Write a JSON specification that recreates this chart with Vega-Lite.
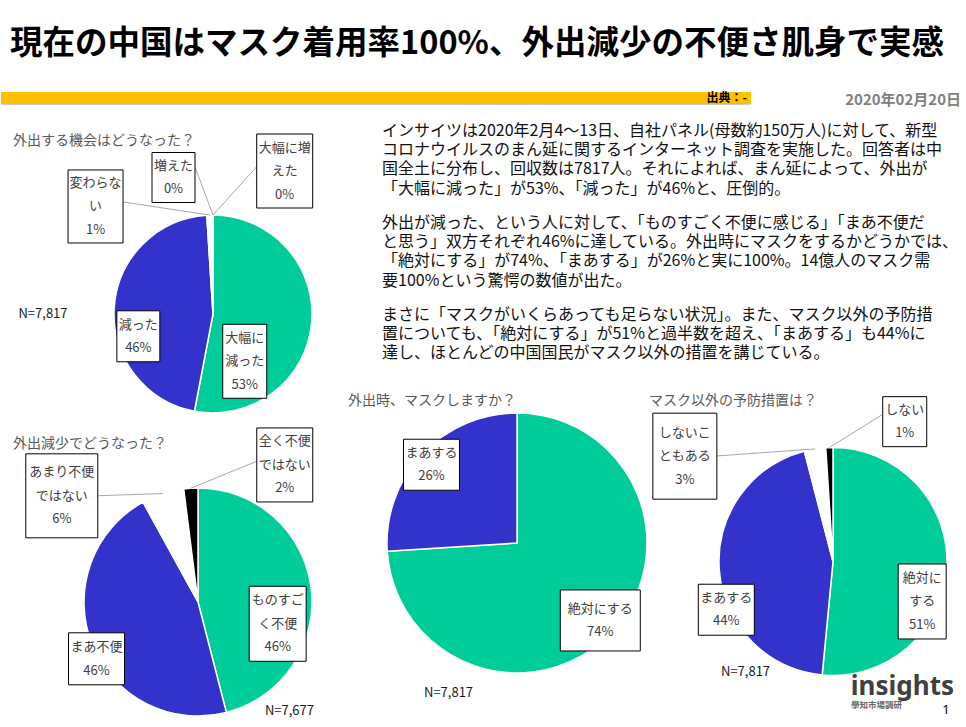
{
  "$schema": "https://vega.github.io/schema/vega-lite/v6.json",
  "padding": 0,
  "autosize": {"type": "pad"},
  "background": "white",
  "spacing": 0,
  "config": {
    "concat": {"spacing": 0},
    "view": {"stroke": null},
    "font": "Noto Sans CJK JP",
    "title": {"font": "Noto Sans CJK JP", "fontWeight": "normal", "fontSize": 13, "color": "#1a1a1a", "anchor": "start", "frame": "group"},
    "text": {"font": "Noto Sans CJK JP", "fontSize": 13, "lineHeight": 23.5, "lineBreak": "\n", "color": "#404040", "align": "center", "baseline": "middle"},
    "arc": {"stroke": "white", "strokeWidth": 1.5},
    "rule": {"color": "#a6a6a6", "strokeWidth": 1},
    "rect": {"fill": "white", "stroke": "black", "strokeWidth": 1}
  },
  "datasets": {
    "p1": [
      {"i": 1, "cat": "大幅に減った", "label": "大幅に\n減った", "pct": 53},
      {"i": 2, "cat": "減った", "label": "減った", "pct": 46},
      {"i": 3, "cat": "変わらない", "label": "変わらな\nい", "pct": 1},
      {"i": 4, "cat": "増えた", "label": "増えた", "pct": 0},
      {"i": 5, "cat": "大幅に増えた", "label": "大幅に増\nえた", "pct": 0}
    ],
    "p2": [
      {"i": 1, "cat": "ものすごく不便", "label": "ものすご\nく不便", "pct": 46},
      {"i": 2, "cat": "まあ不便", "label": "まあ不便", "pct": 46},
      {"i": 3, "cat": "あまり不便ではない", "label": "あまり不便\nではない", "pct": 6},
      {"i": 4, "cat": "全く不便ではない", "label": "全く不便\nではない", "pct": 2}
    ],
    "p3": [
      {"i": 1, "cat": "絶対にする", "label": "絶対にする", "pct": 74},
      {"i": 2, "cat": "まあする", "label": "まあする", "pct": 26}
    ],
    "p4": [
      {"i": 1, "cat": "絶対にする", "label": "絶対に\nする", "pct": 51},
      {"i": 2, "cat": "まあする", "label": "まあする", "pct": 44},
      {"i": 3, "cat": "しないこともある", "label": "しないこ\nともある", "pct": 3},
      {"i": 4, "cat": "しない", "label": "しない", "pct": 1}
    ]
  },
  "vconcat": [
    {
      "width": 952, "height": 88,
      "data": {"values": [{"t": "現在の中国はマスク着用率100%、外出減少の不便さ肌身で実感"}]},
      "mark": {"type": "text", "fontSize": 32.5, "fontWeight": "bold", "color": "#000000"},
      "encoding": {"text": {"field": "t", "type": "nominal"}}
    },
    {"width": 1, "height": 4, "data": {"values": []}, "mark": "point"},
    {
      "hconcat": [
        {
          "width": 750, "height": 12,
          "view": {"fill": "#FFC000", "stroke": null},
          "data": {"values": [{"t": "出典：-"}]},
          "layer": [
            {"mark": {"type": "rule", "color": "#b8b8b8", "strokeWidth": 2, "opacity": 0.7},
             "encoding": {"y": {"value": "height"}}},
            {"mark": {"type": "text", "fontSize": 12, "fontWeight": "bold", "color": "#000000", "align": "right", "dx": -4},
             "encoding": {"x": {"value": "width"}, "text": {"field": "t", "type": "nominal"}}}
          ]
        },
        {
          "width": 210, "height": 16,
          "data": {"values": [{"t": "2020年02月20日"}]},
          "mark": {"type": "text", "fontSize": 15, "fontWeight": "bold", "color": "#7f7f7f", "align": "right"},
          "encoding": {"x": {"value": "width"}, "text": {"field": "t", "type": "nominal"}}
        }
      ],
      "spacing": 0, "bounds": "flush"
    },
    {
      "hconcat": [
        {"width": 12, "height": 1, "data": {"values": []}, "mark": "point"},
        {
          "vconcat": [
            {"width": 1, "height": 25, "data": {"values": []}, "mark": "point"},
            {
              "hconcat": [
                {
                  "width": 60, "height": 198,
                  "title": {"text": "外出する機会はどうなった？", "offset": 67, "fontSize": 14, "color": "#595959"},
                  "data": {"values": [{"t": "N=7,817"}]},
                  "mark": {"type": "text", "color": "#1a1a1a"},
                  "encoding": {"text": {"field": "t", "type": "nominal"}}
                },
                {"width": 30, "height": 1, "data": {"values": []}, "mark": "point"},
                {
                  "width": 220, "height": 198,
                  "data": {"name": "p1"},
                  "transform": [
                    {"stack": "pct", "groupby": [], "offset": "normalize", "sort": [{"field": "i", "order": "ascending"}], "as": ["s0", "s1"]},
                    {"calculate": "(datum.s0 + datum.s1) / 2", "as": "mid"},
                    {"calculate": "datum.label + '\\n' + datum.pct + '%'", "as": "txt"}
                  ],
                  "layer": [
                    {"mark": {"type": "arc", "outerRadius": 99},
                     "encoding": {
                       "theta": {"field": "s0", "type": "quantitative", "scale": {"domain": [0, 1]}},
                       "theta2": {"field": "s1"},
                       "color": {"field": "cat", "type": "nominal", "legend": null,
                         "scale": {"domain": ["大幅に減った","減った","変わらない","増えた","大幅に増えた","ものすごく不便","まあ不便","あまり不便ではない","全く不便ではない","絶対にする","まあする","しないこともある","しない"],
                                   "range": ["#00CC99","#3333CC","#FFFFFF","#000000","#000000","#00CC99","#3333CC","#FFFFFF","#000000","#00CC99","#3333CC","#FFFFFF","#000000"]}}}},
                    {"transform": [{"filter": "datum.cat === '大幅に減った'"},
                       {"calculate": "35*sin(2*PI*datum.mid) - 3.1", "as": "bx"},
                       {"calculate": "-35*cos(2*PI*datum.mid) + 44", "as": "by"},
                       {"calculate": "datum.by - 23.5", "as": "ty"}],
                     "layer": [
                       {"mark": {"type": "rect", "width": 44, "height": 74},
                        "encoding": {"x": {"field": "bx", "type": "quantitative", "scale": {"domain": [-110, 110], "nice": false, "zero": false}, "axis": null},
                                     "y": {"field": "by", "type": "quantitative", "scale": {"domain": [-99, 99], "reverse": true, "nice": false, "zero": false}, "axis": null}}},
                       {"mark": {"type": "text"},
                        "encoding": {"x": {"field": "bx", "type": "quantitative"}, "y": {"field": "ty", "type": "quantitative"}, "text": {"field": "txt", "type": "nominal"}}}
                     ]},
                    {"transform": [{"filter": "datum.cat === '減った'"},
                       {"calculate": "75*sin(2*PI*datum.mid) + 0.2", "as": "bx"},
                       {"calculate": "-75*cos(2*PI*datum.mid) + 27", "as": "by"},
                       {"calculate": "datum.by - 11.75", "as": "ty"}],
                     "layer": [
                       {"mark": {"type": "rect", "width": 43, "height": 51},
                        "encoding": {"x": {"field": "bx", "type": "quantitative"}, "y": {"field": "by", "type": "quantitative"}}},
                       {"mark": {"type": "text"},
                        "encoding": {"x": {"field": "bx", "type": "quantitative"}, "y": {"field": "ty", "type": "quantitative"}, "text": {"field": "txt", "type": "nominal"}}}
                     ]},
                    {"transform": [{"filter": "datum.cat === '変わらない'"},
                       {"calculate": "110*sin(2*PI*datum.mid) - 114", "as": "bx"},
                       {"calculate": "-110*cos(2*PI*datum.mid) + 2.4", "as": "by"},
                       {"calculate": "datum.by - 23.5", "as": "ty"},
                       {"calculate": "99*sin(2*PI*datum.mid)", "as": "px"},
                       {"calculate": "-99*cos(2*PI*datum.mid)", "as": "py"},
                       {"calculate": "datum.bx + 27.5", "as": "lx"},
                       {"calculate": "datum.by - 4.5", "as": "ly"}],
                     "layer": [
                       {"mark": {"type": "rule"},
                        "encoding": {"x": {"field": "px", "type": "quantitative"}, "y": {"field": "py", "type": "quantitative"}, "x2": {"field": "lx"}, "y2": {"field": "ly"}}},
                       {"mark": {"type": "rect", "width": 55, "height": 73},
                        "encoding": {"x": {"field": "bx", "type": "quantitative"}, "y": {"field": "by", "type": "quantitative"}}},
                       {"mark": {"type": "text"},
                        "encoding": {"x": {"field": "bx", "type": "quantitative"}, "y": {"field": "ty", "type": "quantitative"}, "text": {"field": "txt", "type": "nominal"}}}
                     ]},
                    {"transform": [{"filter": "datum.cat === '増えた'"},
                       {"calculate": "110*sin(2*PI*datum.mid) - 39.5", "as": "bx"},
                       {"calculate": "-110*cos(2*PI*datum.mid) - 26.5", "as": "by"},
                       {"calculate": "datum.by - 11.75", "as": "ty"},
                       {"calculate": "99*sin(2*PI*datum.mid)", "as": "px"},
                       {"calculate": "-99*cos(2*PI*datum.mid)", "as": "py"},
                       {"calculate": "datum.bx + 21.5", "as": "lx"},
                       {"calculate": "datum.by - 10.5", "as": "ly"}],
                     "layer": [
                       {"mark": {"type": "rule"},
                        "encoding": {"x": {"field": "px", "type": "quantitative"}, "y": {"field": "py", "type": "quantitative"}, "x2": {"field": "lx"}, "y2": {"field": "ly"}}},
                       {"mark": {"type": "rect", "width": 43, "height": 50},
                        "encoding": {"x": {"field": "bx", "type": "quantitative"}, "y": {"field": "by", "type": "quantitative"}}},
                       {"mark": {"type": "text"},
                        "encoding": {"x": {"field": "bx", "type": "quantitative"}, "y": {"field": "ty", "type": "quantitative"}, "text": {"field": "txt", "type": "nominal"}}}
                     ]},
                    {"transform": [{"filter": "datum.cat === '大幅に増えた'"},
                       {"calculate": "110*sin(2*PI*datum.mid) + 71.7", "as": "bx"},
                       {"calculate": "-110*cos(2*PI*datum.mid) - 33", "as": "by"},
                       {"calculate": "datum.by - 23.5", "as": "ty"},
                       {"calculate": "99*sin(2*PI*datum.mid)", "as": "px"},
                       {"calculate": "-99*cos(2*PI*datum.mid)", "as": "py"},
                       {"calculate": "datum.bx - 28", "as": "lx"},
                       {"calculate": "datum.by - 4.3", "as": "ly"}],
                     "layer": [
                       {"mark": {"type": "rule"},
                        "encoding": {"x": {"field": "px", "type": "quantitative"}, "y": {"field": "py", "type": "quantitative"}, "x2": {"field": "lx"}, "y2": {"field": "ly"}}},
                       {"mark": {"type": "rect", "width": 56, "height": 74},
                        "encoding": {"x": {"field": "bx", "type": "quantitative"}, "y": {"field": "by", "type": "quantitative"}}},
                       {"mark": {"type": "text"},
                        "encoding": {"x": {"field": "bx", "type": "quantitative"}, "y": {"field": "ty", "type": "quantitative"}, "text": {"field": "txt", "type": "nominal"}}}
                     ]}
                  ]
                }
              ],
              "spacing": 0, "bounds": "flush"
            },
            {"width": 1, "height": 11, "data": {"values": []}, "mark": "point"},
            {
              "hconcat": [
                {"width": 75, "height": 1, "title": {"text": "外出減少でどうなった？", "offset": 37, "fontSize": 14, "color": "#595959"}, "data": {"values": []}, "mark": "point"},
                {
                  "width": 220, "height": 228,
                  "data": {"name": "p2"},
                  "title": {"text": "N=7,677", "orient": "bottom", "anchor": "end", "offset": -14, "dx": 6},
                  "transform": [
                    {"stack": "pct", "groupby": [], "offset": "normalize", "sort": [{"field": "i", "order": "ascending"}], "as": ["s0", "s1"]},
                    {"calculate": "(datum.s0 + datum.s1) / 2", "as": "mid"},
                    {"calculate": "datum.label + '\\n' + datum.pct + '%'", "as": "txt"}
                  ],
                  "layer": [
                    {"mark": {"type": "arc", "outerRadius": 114},
                     "encoding": {
                       "theta": {"field": "s0", "type": "quantitative", "scale": {"domain": [0, 1]}},
                       "theta2": {"field": "s1"},
                       "color": {"field": "cat", "type": "nominal", "legend": null,
                         "scale": {"domain": ["大幅に減った","減った","変わらない","増えた","大幅に増えた","ものすごく不便","まあ不便","あまり不便ではない","全く不便ではない","絶対にする","まあする","しないこともある","しない"],
                                   "range": ["#00CC99","#3333CC","#FFFFFF","#000000","#000000","#00CC99","#3333CC","#FFFFFF","#000000","#00CC99","#3333CC","#FFFFFF","#000000"]}}}},
                    {"transform": [{"filter": "datum.cat === 'ものすごく不便'"},
                       {"calculate": "80*sin(2*PI*datum.mid) + 0.3", "as": "bx"},
                       {"calculate": "-80*cos(2*PI*datum.mid) + 31.8", "as": "by"},
                       {"calculate": "datum.by - 23.5", "as": "ty"}],
                     "layer": [
                       {"mark": {"type": "rect", "width": 57, "height": 75},
                        "encoding": {"x": {"field": "bx", "type": "quantitative", "scale": {"domain": [-110, 110], "nice": false, "zero": false}, "axis": null},
                                     "y": {"field": "by", "type": "quantitative", "scale": {"domain": [-114, 114], "reverse": true, "nice": false, "zero": false}, "axis": null}}},
                       {"mark": {"type": "text"},
                        "encoding": {"x": {"field": "bx", "type": "quantitative"}, "y": {"field": "ty", "type": "quantitative"}, "text": {"field": "txt", "type": "nominal"}}}
                     ]},
                    {"transform": [{"filter": "datum.cat === 'まあ不便'"},
                       {"calculate": "100*sin(2*PI*datum.mid) - 8.5", "as": "bx"},
                       {"calculate": "-100*cos(2*PI*datum.mid) + 20", "as": "by"},
                       {"calculate": "datum.by - 11.75", "as": "ty"}],
                     "layer": [
                       {"mark": {"type": "rect", "width": 56, "height": 52},
                        "encoding": {"x": {"field": "bx", "type": "quantitative"}, "y": {"field": "by", "type": "quantitative"}}},
                       {"mark": {"type": "text"},
                        "encoding": {"x": {"field": "bx", "type": "quantitative"}, "y": {"field": "ty", "type": "quantitative"}, "text": {"field": "txt", "type": "nominal"}}}
                     ]},
                    {"transform": [{"filter": "datum.cat === 'あまり不便ではない'"},
                       {"calculate": "125*sin(2*PI*datum.mid) - 97.6", "as": "bx"},
                       {"calculate": "-125*cos(2*PI*datum.mid) + 12.7", "as": "by"},
                       {"calculate": "datum.by - 23.5", "as": "ty"},
                       {"calculate": "114*sin(2*PI*datum.mid)", "as": "px"},
                       {"calculate": "-114*cos(2*PI*datum.mid)", "as": "py"},
                       {"calculate": "datum.bx + 36", "as": "lx"},
                       {"calculate": "datum.by - 0.1", "as": "ly"}],
                     "layer": [
                       {"mark": {"type": "rule"},
                        "encoding": {"x": {"field": "px", "type": "quantitative"}, "y": {"field": "py", "type": "quantitative"}, "x2": {"field": "lx"}, "y2": {"field": "ly"}}},
                       {"mark": {"type": "rect", "width": 72, "height": 84},
                        "encoding": {"x": {"field": "bx", "type": "quantitative"}, "y": {"field": "by", "type": "quantitative"}}},
                       {"mark": {"type": "text"},
                        "encoding": {"x": {"field": "bx", "type": "quantitative"}, "y": {"field": "ty", "type": "quantitative"}, "text": {"field": "txt", "type": "nominal"}}}
                     ]},
                    {"transform": [{"filter": "datum.cat === '全く不便ではない'"},
                       {"calculate": "125*sin(2*PI*datum.mid) + 94.6", "as": "bx"},
                       {"calculate": "-125*cos(2*PI*datum.mid) - 12.3", "as": "by"},
                       {"calculate": "datum.by - 23.5", "as": "ty"},
                       {"calculate": "114*sin(2*PI*datum.mid)", "as": "px"},
                       {"calculate": "-114*cos(2*PI*datum.mid)", "as": "py"},
                       {"calculate": "datum.bx - 28", "as": "lx"},
                       {"calculate": "datum.by - 3.7", "as": "ly"}],
                     "layer": [
                       {"mark": {"type": "rule"},
                        "encoding": {"x": {"field": "px", "type": "quantitative"}, "y": {"field": "py", "type": "quantitative"}, "x2": {"field": "lx"}, "y2": {"field": "ly"}}},
                       {"mark": {"type": "rect", "width": 56, "height": 74},
                        "encoding": {"x": {"field": "bx", "type": "quantitative"}, "y": {"field": "by", "type": "quantitative"}}},
                       {"mark": {"type": "text"},
                        "encoding": {"x": {"field": "bx", "type": "quantitative"}, "y": {"field": "ty", "type": "quantitative"}, "text": {"field": "txt", "type": "nominal"}}}
                     ]}
                  ]
                }
              ],
              "spacing": 0, "bounds": "flush"
            }
          ],
          "spacing": 0
        },
        {
          "vconcat": [
            {
              "width": 118, "height": 30,
              "data": {"values": [{"t": "インサイツは2020年2月4～13日、自社パネル(母数約150万人)に対して、新型\nコロナウイルスのまん延に関するインターネット調査を実施した。回答者は中\n国全土に分布し、回収数は7817人。それによれば、まん延によって、外出が\n「大幅に減った」が53%、「減った」が46%と、圧倒的。"}]},
              "mark": {"type": "text", "fontSize": 16, "lineHeight": 19.2, "color": "#111111", "align": "left", "baseline": "top"},
              "encoding": {"text": {"field": "t", "type": "nominal"}}
            },
            {
              "width": 118, "height": 36,
              "data": {"values": [{"t": "外出が減った、という人に対して、「ものすごく不便に感じる」「まあ不便だ\nと思う」双方それぞれ46%に達している。外出時にマスクをするかどうかでは、\n「絶対にする」が74%、「まあする」が26%と実に100%。14億人のマスク需\n要100%という驚愕の数値が出た。"}]},
              "mark": {"type": "text", "fontSize": 16, "lineHeight": 19.2, "color": "#111111", "align": "left", "baseline": "top"},
              "encoding": {"text": {"field": "t", "type": "nominal"}}
            },
            {
              "width": 118, "height": 35,
              "data": {"values": [{"t": "まさに「マスクがいくらあっても足らない状況」。また、マスク以外の予防措\n置についても、「絶対にする」が51%と過半数を超え、「まあする」も44%に\n達し、ほとんどの中国国民がマスク以外の措置を講じている。"}]},
              "mark": {"type": "text", "fontSize": 16, "lineHeight": 19.2, "color": "#111111", "align": "left", "baseline": "top"},
              "encoding": {"text": {"field": "t", "type": "nominal"}}
            },
            {"width": 1, "height": 33, "data": {"values": []}, "mark": "point"},
            {
              "hconcat": [
                {"width": 62, "height": 1, "title": {"text": "外出時、マスクしますか？", "offset": 5, "dx": 25, "fontSize": 14, "color": "#595959"}, "data": {"values": []}, "mark": "point"},
                {
                  "width": 264, "height": 260,
                  "data": {"name": "p3"},
                  "title": {"text": "N=7,817", "orient": "bottom", "anchor": "start", "offset": 11, "dx": 39},
                  "transform": [
                    {"stack": "pct", "groupby": [], "offset": "normalize", "sort": [{"field": "i", "order": "ascending"}], "as": ["s0", "s1"]},
                    {"calculate": "(datum.s0 + datum.s1) / 2", "as": "mid"},
                    {"calculate": "datum.label + '\\n' + datum.pct + '%'", "as": "txt"}
                  ],
                  "layer": [
                    {"mark": {"type": "arc", "outerRadius": 130},
                     "encoding": {
                       "theta": {"field": "s0", "type": "quantitative", "scale": {"domain": [0, 1]}},
                       "theta2": {"field": "s1"},
                       "color": {"field": "cat", "type": "nominal", "legend": null,
                         "scale": {"domain": ["大幅に減った","減った","変わらない","増えた","大幅に増えた","ものすごく不便","まあ不便","あまり不便ではない","全く不便ではない","絶対にする","まあする","しないこともある","しない"],
                                   "range": ["#00CC99","#3333CC","#FFFFFF","#000000","#000000","#00CC99","#3333CC","#FFFFFF","#000000","#00CC99","#3333CC","#FFFFFF","#000000"]}}}},
                    {"transform": [{"filter": "datum.cat === '絶対にする'"},
                       {"calculate": "100*sin(2*PI*datum.mid) + 10.4", "as": "bx"},
                       {"calculate": "-100*cos(2*PI*datum.mid) + 9", "as": "by"},
                       {"calculate": "datum.by - 11.75", "as": "ty"}],
                     "layer": [
                       {"mark": {"type": "rect", "width": 80, "height": 61},
                        "encoding": {"x": {"field": "bx", "type": "quantitative", "scale": {"domain": [-132, 132], "nice": false, "zero": false}, "axis": null},
                                     "y": {"field": "by", "type": "quantitative", "scale": {"domain": [-130, 130], "reverse": true, "nice": false, "zero": false}, "axis": null}}},
                       {"mark": {"type": "text"},
                        "encoding": {"x": {"field": "bx", "type": "quantitative"}, "y": {"field": "ty", "type": "quantitative"}, "text": {"field": "txt", "type": "nominal"}}}
                     ]},
                    {"transform": [{"filter": "datum.cat === 'まあする'"},
                       {"calculate": "125*sin(2*PI*datum.mid) + 5.6", "as": "bx"},
                       {"calculate": "-125*cos(2*PI*datum.mid) + 7.3", "as": "by"},
                       {"calculate": "datum.by - 11.75", "as": "ty"}],
                     "layer": [
                       {"mark": {"type": "rect", "width": 56, "height": 51},
                        "encoding": {"x": {"field": "bx", "type": "quantitative"}, "y": {"field": "by", "type": "quantitative"}}},
                       {"mark": {"type": "text"},
                        "encoding": {"x": {"field": "bx", "type": "quantitative"}, "y": {"field": "ty", "type": "quantitative"}, "text": {"field": "txt", "type": "nominal"}}}
                     ]}
                  ]
                },
                {"width": 70, "height": 1, "title": {"text": "マスク以外の予防措置は？", "offset": 5, "fontSize": 14, "color": "#595959"}, "data": {"values": []}, "mark": "point"},
                {
                  "width": 228, "height": 297,
                  "data": {"name": "p4"},
                  "title": {"text": "N=7,817", "orient": "bottom", "anchor": "start", "offset": -51, "dx": 2},
                  "transform": [
                    {"stack": "pct", "groupby": [], "offset": "normalize", "sort": [{"field": "i", "order": "ascending"}], "as": ["s0", "s1"]},
                    {"calculate": "(datum.s0 + datum.s1) / 2", "as": "mid"},
                    {"calculate": "datum.label + '\\n' + datum.pct + '%'", "as": "txt"}
                  ],
                  "layer": [
                    {"mark": {"type": "arc", "outerRadius": 114},
                     "encoding": {
                       "theta": {"field": "s0", "type": "quantitative", "scale": {"domain": [0, 1]}},
                       "theta2": {"field": "s1"},
                       "color": {"field": "cat", "type": "nominal", "legend": null,
                         "scale": {"domain": ["大幅に減った","減った","変わらない","増えた","大幅に増えた","ものすごく不便","まあ不便","あまり不便ではない","全く不便ではない","絶対にする","まあする","しないこともある","しない"],
                                   "range": ["#00CC99","#3333CC","#FFFFFF","#000000","#000000","#00CC99","#3333CC","#FFFFFF","#000000","#00CC99","#3333CC","#FFFFFF","#000000"]}}}},
                    {"transform": [{"filter": "datum.cat === '絶対にする'"},
                       {"calculate": "90*sin(2*PI*datum.mid) - 0.7", "as": "bx"},
                       {"calculate": "-90*cos(2*PI*datum.mid) + 35.7", "as": "by"},
                       {"calculate": "datum.by - 23.5", "as": "ty"}],
                     "layer": [
                       {"mark": {"type": "rect", "width": 48, "height": 75},
                        "encoding": {"x": {"field": "bx", "type": "quantitative", "scale": {"domain": [-114, 114], "nice": false, "zero": false}, "axis": null},
                                     "y": {"field": "by", "type": "quantitative", "scale": {"domain": [-148.5, 148.5], "reverse": true, "nice": false, "zero": false}, "axis": null}}},
                       {"mark": {"type": "text"},
                        "encoding": {"x": {"field": "bx", "type": "quantitative"}, "y": {"field": "ty", "type": "quantitative"}, "text": {"field": "txt", "type": "nominal"}}}
                     ]},
                    {"transform": [{"filter": "datum.cat === 'まあする'"},
                       {"calculate": "100*sin(2*PI*datum.mid) - 7", "as": "bx"},
                       {"calculate": "-100*cos(2*PI*datum.mid) + 40.3", "as": "by"},
                       {"calculate": "datum.by - 11.75", "as": "ty"}],
                     "layer": [
                       {"mark": {"type": "rect", "width": 56, "height": 51},
                        "encoding": {"x": {"field": "bx", "type": "quantitative"}, "y": {"field": "by", "type": "quantitative"}}},
                       {"mark": {"type": "text"},
                        "encoding": {"x": {"field": "bx", "type": "quantitative"}, "y": {"field": "ty", "type": "quantitative"}, "text": {"field": "txt", "type": "nominal"}}}
                     ]},
                    {"transform": [{"filter": "datum.cat === 'しないこともある'"},
                       {"calculate": "125*sin(2*PI*datum.mid) - 128.4", "as": "bx"},
                       {"calculate": "-125*cos(2*PI*datum.mid) + 18.1", "as": "by"},
                       {"calculate": "datum.by - 23.5", "as": "ty"},
                       {"calculate": "114*sin(2*PI*datum.mid)", "as": "px"},
                       {"calculate": "-114*cos(2*PI*datum.mid)", "as": "py"},
                       {"calculate": "datum.bx + 32", "as": "lx"},
                       {"calculate": "datum.by - 0.2", "as": "ly"}],
                     "layer": [
                       {"mark": {"type": "rule"},
                        "encoding": {"x": {"field": "px", "type": "quantitative"}, "y": {"field": "py", "type": "quantitative"}, "x2": {"field": "lx"}, "y2": {"field": "ly"}}},
                       {"mark": {"type": "rect", "width": 64, "height": 86},
                        "encoding": {"x": {"field": "bx", "type": "quantitative"}, "y": {"field": "by", "type": "quantitative"}}},
                       {"mark": {"type": "text"},
                        "encoding": {"x": {"field": "bx", "type": "quantitative"}, "y": {"field": "ty", "type": "quantitative"}, "text": {"field": "txt", "type": "nominal"}}}
                     ]},
                    {"transform": [{"filter": "datum.cat === 'しない'"},
                       {"calculate": "125*sin(2*PI*datum.mid) + 75.7", "as": "bx"},
                       {"calculate": "-125*cos(2*PI*datum.mid) - 14.9", "as": "by"},
                       {"calculate": "datum.by - 11.75", "as": "ty"},
                       {"calculate": "114*sin(2*PI*datum.mid)", "as": "px"},
                       {"calculate": "-114*cos(2*PI*datum.mid)", "as": "py"},
                       {"calculate": "datum.bx - 22", "as": "lx"},
                       {"calculate": "datum.by - 7.4", "as": "ly"}],
                     "layer": [
                       {"mark": {"type": "rule"},
                        "encoding": {"x": {"field": "px", "type": "quantitative"}, "y": {"field": "py", "type": "quantitative"}, "x2": {"field": "lx"}, "y2": {"field": "ly"}}},
                       {"mark": {"type": "rect", "width": 44, "height": 50},
                        "encoding": {"x": {"field": "bx", "type": "quantitative"}, "y": {"field": "by", "type": "quantitative"}}},
                       {"mark": {"type": "text"},
                        "encoding": {"x": {"field": "bx", "type": "quantitative"}, "y": {"field": "ty", "type": "quantitative"}, "text": {"field": "txt", "type": "nominal"}}}
                     ]},
                    {"data": {"values": [{"t": "insights"}]},
                     "mark": {"type": "text", "font": "Noto Sans", "fontSize": 26, "fontWeight": "bold", "color": "#404040", "align": "right", "baseline": "alphabetic", "dx": 7, "dy": -15},
                     "encoding": {"x": {"value": "width"}, "y": {"value": "height"}, "text": {"field": "t", "type": "nominal"}}},
                    {"data": {"values": [{"t": "學知市場調研"}]},
                     "mark": {"type": "text", "fontSize": 8.5, "fontWeight": "bold", "color": "#666666", "align": "right", "dx": -45, "dy": -5},
                     "encoding": {"x": {"value": "width"}, "y": {"value": "height"}, "text": {"field": "t", "type": "nominal"}}},
                    {"data": {"values": [{"t": "1"}]},
                     "mark": {"type": "text", "font": "Noto Sans", "color": "#000000", "dx": -1, "dy": 0},
                     "encoding": {"x": {"value": "width"}, "y": {"value": "height"}, "text": {"field": "t", "type": "nominal"}}}
                  ]
                }
              ],
              "spacing": 0, "bounds": "flush"
            }
          ],
          "spacing": 0
        }
      ],
      "spacing": 0
    }
  ]
}
